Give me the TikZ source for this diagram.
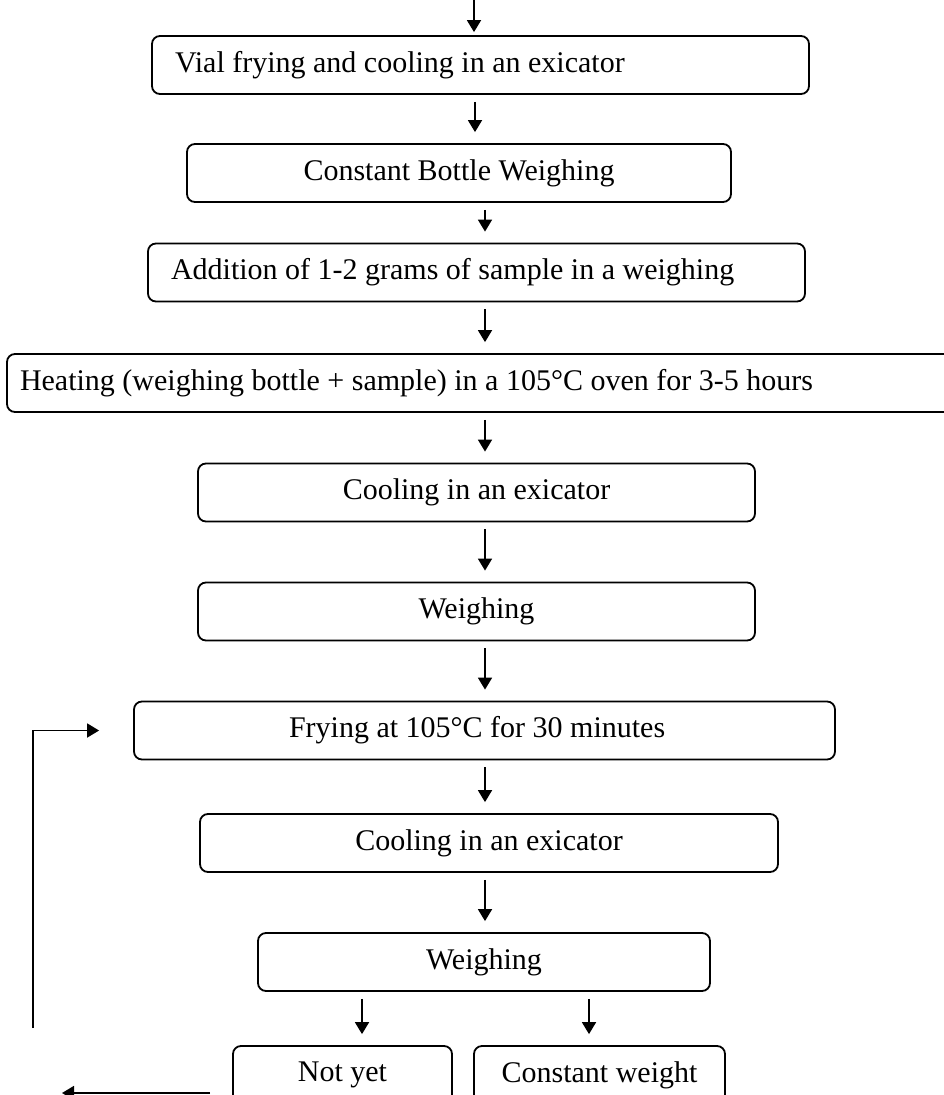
\documentclass[tikz,border=0pt]{standalone}
\usepackage{fontspec}
\setmainfont{Liberation Serif}
\usetikzlibrary{arrows.meta}
\newcommand{\natsp}{\spaceskip=0pt\xspaceskip=0pt\relax}
\tikzset{
  box/.style={draw, line width=1.8pt, rounded corners=8pt, minimum height=58pt, inner ysep=0pt, font=\fontsize{30}{36}\selectfont},
  lbox/.style={box, align=left},
  arr/.style={line width=1.8pt, -{Triangle[length=12pt,width=14pt]}},
  seg/.style={shorten <=7pt, shorten >=11pt}
}
\begin{document}
\begin{tikzpicture}[x=1pt,y=-1pt]
\clip (0,0) rectangle (944,1095);
\useasboundingbox (0,0) rectangle (944,1095);
% boxes
\node[lbox, text width=611pt, inner xsep=23pt] (b1) at (480.5,65) {\natsp Vial frying and cooling in an exicator};
\node[box, minimum width=544pt] (b2) at (459,173) {Constant Bottle Weighing};
\node[lbox, text width=611pt, inner xsep=23pt] (b3) at (476.5,272.5) {\natsp Addition of 1-2 grams of sample in a weighing};
\node[lbox, text width=937pt, inner xsep=13pt] (b4) at (488.5,383) {\natsp Heating (weighing bottle + sample) in a 105°C oven for 3-5 hours};
\node[box, minimum width=557pt] (b5) at (476.5,492.5) {Cooling in an exicator};
\node[box, minimum width=557pt] (b6) at (476.5,611.5) {Weighing};
\node[lbox, text width=391pt, inner xsep=155pt] (b7) at (484.5,730.5) {\natsp Frying at 105°C for 30 minutes};
\node[box, minimum width=578pt] (b8) at (489,843) {Cooling in an exicator};
\node[box, minimum width=452pt] (b9) at (484,962) {Weighing};
\node[box, minimum width=219pt] (b10) at (342.5,1075) {Not yet};
\node[box, minimum width=251pt] (b11) at (599.5,1075) {Constant weight};
% arrow columns
\coordinate (xa) at (475,0);
\coordinate (xb) at (485,0);
\coordinate (xl) at (362,0);
\coordinate (xr) at (589,0);
\coordinate (top) at (474,0);
\draw[arr, shorten >=3pt] (top) -- (top |- b1.north);
\draw[arr, seg] (b1.south -| xa) -- (b2.north -| xa);
\draw[arr, seg] (b2.south -| xb) -- (b3.north -| xb);
\draw[arr, seg] (b3.south -| xb) -- (b4.north -| xb);
\draw[arr, seg] (b4.south -| xb) -- (b5.north -| xb);
\draw[arr, seg] (b5.south -| xb) -- (b6.north -| xb);
\draw[arr, seg] (b6.south -| xb) -- (b7.north -| xb);
\draw[arr, seg] (b7.south -| xb) -- (b8.north -| xb);
\draw[arr, seg] (b8.south -| xb) -- (b9.north -| xb);
\draw[arr, seg] (b9.south -| xl) -- (b10.north -| xl);
\draw[arr, seg] (b9.south -| xr) -- (b11.north -| xr);
% feedback loop
\coordinate (fbA) at (210,1093);
\coordinate (fbB) at (62,1093);
\draw[arr] (fbA) -- (fbB);
\coordinate (fbC) at (33,1028);
\draw[arr, shorten >=34pt] (fbC) |- (b7.west);
\end{tikzpicture}
\end{document}
